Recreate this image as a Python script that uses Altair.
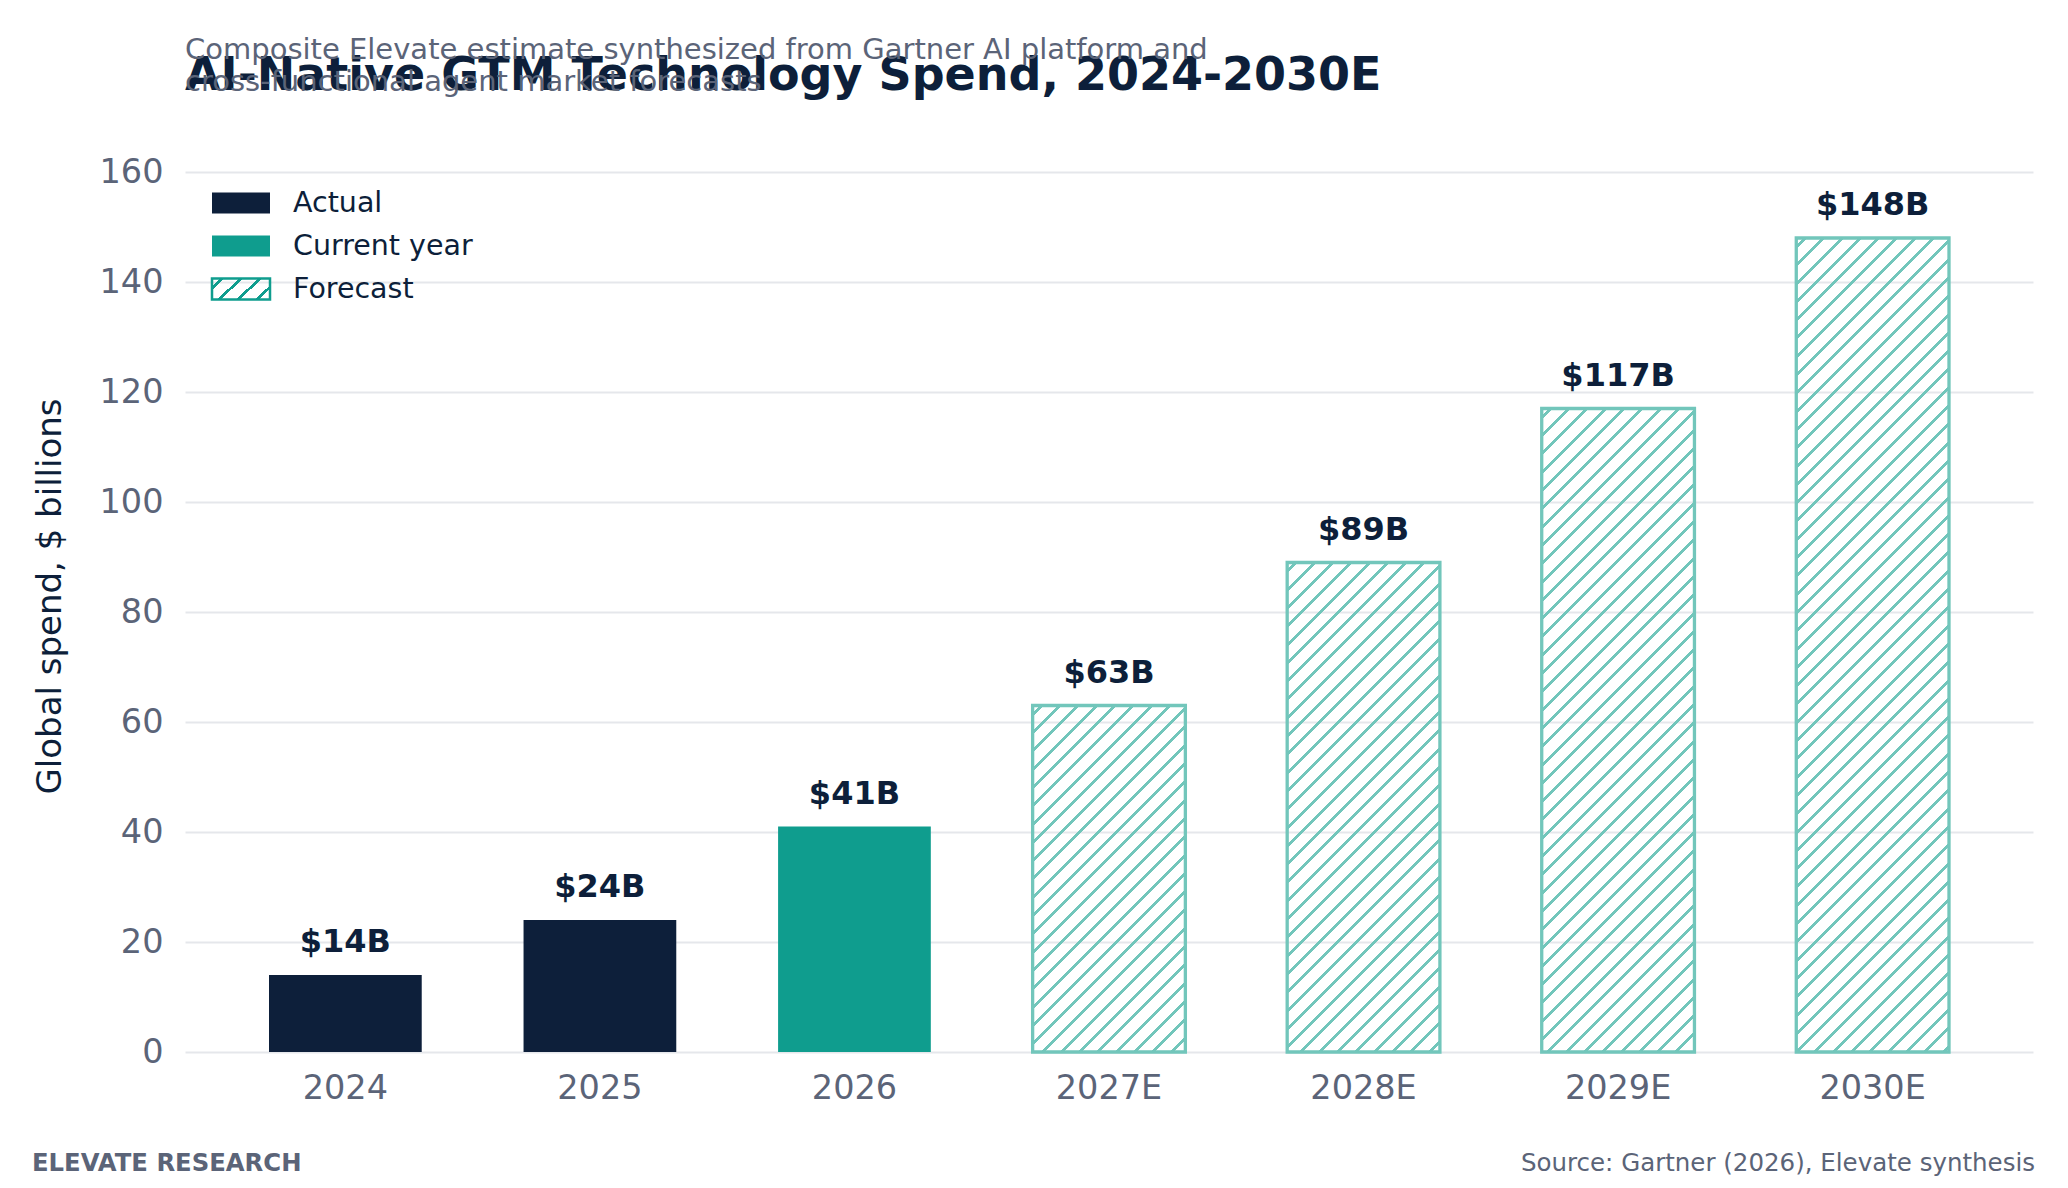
import pandas as pd
import altair as alt

years = ["2024", "2025", "2026", "2027E", "2028E", "2029E", "2030E"]
spend = [14, 24, 41, 63, 89, 117, 148]
kinds = ["Actual", "Actual", "Current year", "Forecast", "Forecast", "Forecast", "Forecast"]
legend_order = ["Actual", "Current year", "Forecast"]
y_ticks = [0, 20, 40, 60, 80, 100, 120, 140, 160]

title = "AI-Native GTM Technology Spend, 2024-2030E"
subtitle = ["Composite Elevate estimate synthesized from Gartner AI platform and",
            "cross-functional agent market forecasts"]
y_title = "Global spend, $ billions"
footer_left = "ELEVATE RESEARCH"
footer_right = "Source: Gartner (2026), Elevate synthesis"

NAVY = "#0d1f3a"
TEAL = "#0f9d8e"
HATCH = "#72c6bb"
CLEAR = "rgba(255,255,255,0)"
GRAY = "#5b6478"
GRID = "#e5e7eb"
FONT = "DejaVu Sans"

W, H = 1848, 880
Y_MAX = 160
PAD_IN, PAD_OUT = 0.4, 0.33
step = W / (len(years) - PAD_IN + 2 * PAD_OUT)
BAR_W = step * (1 - PAD_IN)


def hatch(w, h, color, period=18.3, lw=4.0):
    # diagonal "/" stripes as a hard-stop linear gradient in bbox units
    total = w + h
    stops = [{"offset": 0, "color": CLEAR}]
    c = period / 2
    while c - lw / 2 < total:
        a = max(0.0, (c - lw / 2) / total)
        b = min(1.0, (c + lw / 2) / total)
        stops += [{"offset": a, "color": CLEAR}, {"offset": a, "color": color},
                  {"offset": b, "color": color}, {"offset": b, "color": CLEAR}]
        c += period
    stops.append({"offset": 1, "color": CLEAR})
    k = total * w / (w * w + h * h)
    return {"gradient": "linear", "x1": 0, "y1": 0, "x2": k, "y2": k * h / w, "stops": stops}


def as_expr(g):
    # gradient dict -> vega expression object literal
    stops = ",".join("{offset:%.5f,color:'%s'}" % (s["offset"], s["color"]) for s in g["stops"])
    return "{gradient:'linear',x1:0,y1:0,x2:%.5f,y2:%.5f,stops:[%s]}" % (g["x2"], g["y2"], stops)


df = pd.DataFrame({"year": years, "value": spend, "kind": kinds})

conds = [{"test": f"datum.year === '{yr}'", "value": hatch(BAR_W, v / Y_MAX * H, HATCH)}
         for yr, v, k in zip(years, spend, kinds) if k == "Forecast"]

legend = alt.Legend(title=None, orient="none", legendX=40, legendY=15,
                    symbolType="M-2,-0.72H2V0.72H-2Z", symbolSize=841, symbolStrokeWidth=2.5,
                    symbolOpacity=1,
                    labelFontSize=28.5, labelColor=NAVY, labelFont=FONT, labelLimit=400,
                    labelOffset=36, rowPadding=11, padding=0)

x_enc = alt.X("year:N", sort=years, title=None,
              scale=alt.Scale(paddingInner=PAD_IN, paddingOuter=PAD_OUT),
              axis=alt.Axis(labelAngle=0, ticks=False, domain=False, grid=False,
                            labelPadding=20, labelFontSize=33.5))

bars = alt.Chart(df).mark_bar(strokeWidth=3.3, opacity=1).encode(
    x=x_enc,
    y=alt.Y("value:Q", title=y_title,
            scale=alt.Scale(domain=[0, Y_MAX], nice=False),
            axis=alt.Axis(values=y_ticks, ticks=False, domain=False, grid=True,
                          gridColor=GRID, gridWidth=2, labelPadding=22, labelFontSize=33.5,
                          titleFontSize=34, titleColor=NAVY, titleFontWeight="normal",
                          titlePadding=32, titleY=424)),
    fill=alt.Fill("kind:N",
                  scale=alt.Scale(domain=legend_order,
                                  range=[NAVY, TEAL, {"expr": as_expr(hatch(58, 21, TEAL, period=19))}]),
                  legend=legend, condition=conds),
    stroke=alt.Stroke("kind:N",
                      scale=alt.Scale(domain=legend_order, range=["transparent", "transparent", TEAL]),
                      legend=legend,
                      condition={"test": "datum.kind === 'Forecast'", "value": HATCH}),
)

labels = alt.Chart(df).transform_calculate(
    label="'$' + datum.value + 'B'"
).mark_text(font=FONT, fontSize=32, fontWeight="bold", color=NAVY,
            baseline="alphabetic", dy=-23).encode(
    x=alt.X("year:N", sort=years),
    y=alt.Y("value:Q"),
    text="label:N",
)

foot_l = alt.Chart(pd.DataFrame({"t": [footer_left]})).mark_text(
    font=FONT, fontSize=24.3, fontWeight="bold", color=GRAY, align="left", baseline="middle"
).encode(x=alt.value(-153), y=alt.value(992), text="t:N")

foot_r = alt.Chart(pd.DataFrame({"t": [footer_right]})).mark_text(
    font=FONT, fontSize=24.5, color=GRAY, align="right", baseline="middle"
).encode(x=alt.value(1850), y=alt.value(992), text="t:N")

chart = alt.layer(bars, labels, foot_l, foot_r).properties(
    width=W, height=H,
    autosize=alt.AutoSizeParams(type="none"),
    padding={"left": 177, "top": 164, "right": 19, "bottom": 128},
    title=alt.TitleParams(title, subtitle=subtitle, anchor="start", frame="group", font=FONT,
                          fontSize=46, fontWeight="bold", color=NAVY, subtitleFont=FONT,
                          subtitleFontSize=29, subtitleColor=GRAY, subtitleLineHeight=32,
                          subtitlePadding=-64, offset=38),
).configure_view(stroke=None).configure_axis(
    labelFont=FONT, titleFont=FONT, labelColor=GRAY
)

chart.save("out.html", embed_options={"renderer": "svg", "actions": False})
